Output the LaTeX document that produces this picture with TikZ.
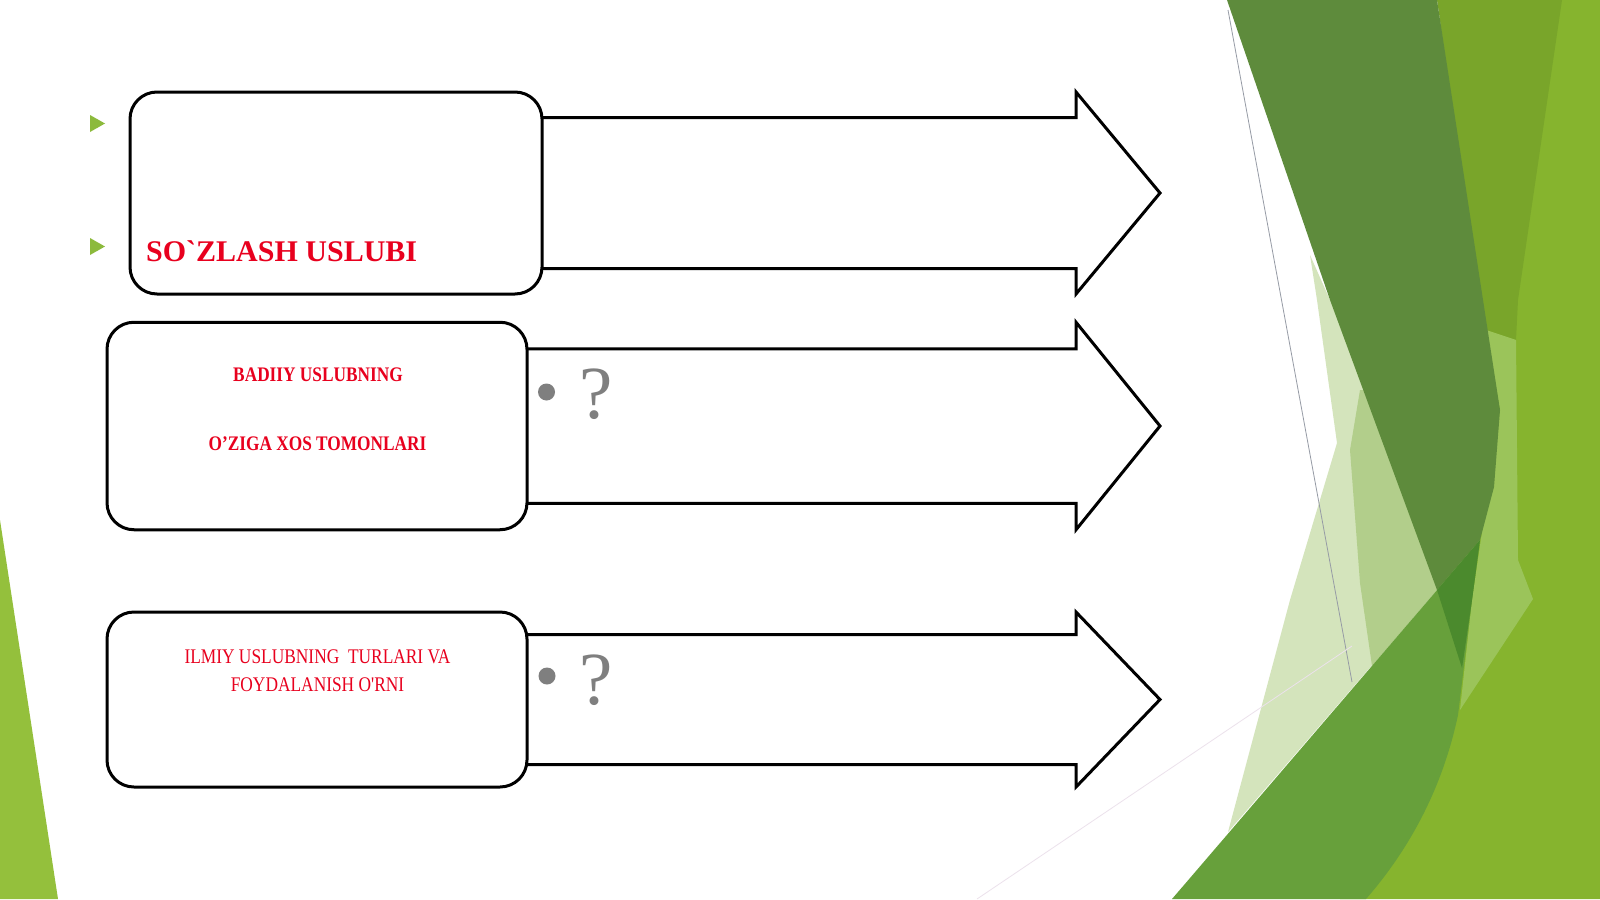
\documentclass[tikz,border=0pt]{standalone}
\usepackage{fontspec}
\newfontfamily\titlefont{Liberation Serif}[Ligatures=TeXOff]
\newfontfamily\boxfont{Liberation Serif}[FakeStretch=0.835,Ligatures=TeXOff]
\usetikzlibrary{calc}
\definecolor{tred}{RGB}{232,0,30}
\definecolor{tgrey}{RGB}{127,127,127}
\definecolor{gBul}{RGB}{140,186,60}
\definecolor{gLeft}{RGB}{148,192,60}
\definecolor{gBase}{RGB}{134,180,46}
\definecolor{gMid}{RGB}{121,165,42}
\definecolor{gSliver}{RGB}{155,196,90}
\definecolor{gPaleL}{RGB}{212,228,188}
\definecolor{gPaleM}{RGB}{178,206,139}
\definecolor{gDark}{RGB}{94,139,60}
\definecolor{gOver}{RGB}{75,138,45}
\definecolor{gMed}{RGB}{103,160,59}
\definecolor{gLine}{RGB}{150,155,165}
\definecolor{gFaint}{RGB}{236,226,236}
\begin{document}
\begin{tikzpicture}[x=1pt,y=-1pt,
  box/.style={draw,line width=3pt,rounded corners=27pt,fill=white,inner sep=0,outer sep=0},
  arr/.style={line width=3pt,line join=miter},
  red/.style={anchor=base,inner sep=0,text=tred},
  qmark/.style={anchor=base west,inner sep=0,text=tgrey,font=\titlefont\fontsize{75}{80}\selectfont}]
\useasboundingbox (0,0) rectangle (1600,899);
\fill[white] (0,0) rectangle (1600,899);
% facets
\fill[gLeft] (0,520)--(58,899)--(0,899)--cycle;
\fill[gBase] (1440,0)--(1600,0)--(1600,899)--(1340,899)--(1450,700)--cycle;
\fill[gMid] (1437,0)--(1562,0)--(1518,300)--(1516,340)--(1486,330)--cycle;
\fill[gSliver] (1486,330)--(1516,340)--(1518,560)--(1533,599)--(1460,710)--(1472,600)--(1500,410)--cycle;
\fill[gPaleL] (1310,255)--(1317,300)--(1337,443)--(1290,600)--(1228,832)--(1480,540)--(1330,300)--cycle;
\fill[gPaleM] (1360,390)--(1350,450)--(1360,583)--(1372,666)--(1480,540)--(1400,390)--cycle;
\fill[gDark] (1227,0)--(1437,0)--(1483,300)--(1500,410)--(1494,487)--(1480,540)--(1437,590)--(1330,300)--cycle;
\fill[gMed] (1172,899)--(1480,540)--(1472,600)--(1458,715) .. controls (1440,800) and (1400,860) .. (1366,899)--cycle;
\fill[gOver] (1437,590)--(1480,540)--(1472,600)--(1462,668)--cycle;
\draw[gLine,line width=.8pt] (1228,10)--(1352,682);
\draw[gFaint,line width=.8pt] (977,899)--(1352,646);
% boxes and arrows
\node[box,minimum width=412,minimum height=202] (b1) at (336,193) {};
\node[box,minimum width=420,minimum height=207.5] (b2) at (317,426) {};
\node[box,minimum width=420,minimum height=175] (b3) at (317,699.5) {};
\coordinate (hb) at (1076,0);
\coordinate (t1) at (1160,193);
\coordinate (t2) at (1160,426);
\coordinate (t3) at (1160,699.5);
\foreach \n/\d in {1/25.5,2/26.5,3/22.5}
  \draw[arr] ($(b\n.north east)+(0,\d)$)--($(b\n.north east -| hb)+(0,\d)$)--(b\n.north east -| hb)--(t\n)
    --(b\n.south east -| hb)--($(b\n.south east -| hb)+(0,-\d)$)--($(b\n.south east)+(0,-\d)$);
% texts
\fill[gBul] (90,115)--(105,123.5)--(90,132)--cycle;
\fill[gBul] (90,238)--(105,246.5)--(90,255)--cycle;
\node[anchor=base west,inner sep=0,text=tred,font=\titlefont\bfseries\fontsize{30}{36}\selectfont] (s1) at (146,261.5) {SO`ZLASH USLUBI};
\node[red,font=\boxfont\bfseries\fontsize{20.7}{24}\selectfont] (s2a) at (318,381.5) {BADIIY USLUBNING};
\node[red,font=\boxfont\bfseries\fontsize{20.7}{24}\selectfont] (s2b) at (317.5,450.5) {O’ZIGA XOS TOMONLARI};
\node[red,font=\boxfont\fontsize{20.8}{24}\selectfont] (s3a) at (317.5,663.5) {ILMIY USLUBNING\ \ TURLARI VA};
\node[red,font=\boxfont\fontsize{20.8}{24}\selectfont] (s3b) at (317.5,691.8) {FOYDALANISH O'RNI};
\fill[tgrey] (546.5,392) circle (8.5);
\node[qmark] (q2) at (579,418) {?};
\fill[tgrey] (547,676) circle (8.5);
\node[qmark] (q3) at (579,704) {?};
\end{tikzpicture}
\end{document}
